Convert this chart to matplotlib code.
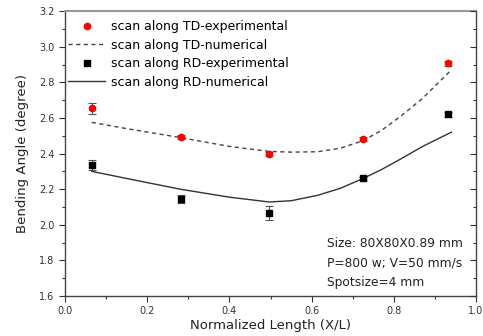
import matplotlib
matplotlib.use("Agg")
import matplotlib.pyplot as plt
from matplotlib.ticker import MultipleLocator
from matplotlib.lines import Line2D

# Experimental data
x_exp = [0.065, 0.282, 0.497, 0.725, 0.931]
td_exp = [2.654, 2.494, 2.397, 2.481, 2.906]
td_err = [0.03, 0.012, 0.012, 0.01, 0.015]
rd_exp = [2.335, 2.145, 2.068, 2.261, 2.62]
rd_err = [0.03, 0.02, 0.04, 0.01, 0.015]

# Numerical curves
x_num = [0.065, 0.15, 0.28, 0.40, 0.497, 0.55, 0.614, 0.67, 0.725, 0.77, 0.817, 0.87, 0.94]
td_num = [2.575, 2.54, 2.49, 2.44, 2.412, 2.408, 2.41, 2.43, 2.472, 2.53, 2.61, 2.71, 2.87]
rd_num = [2.30, 2.26, 2.20, 2.155, 2.128, 2.135, 2.165, 2.205, 2.26, 2.31, 2.37, 2.44, 2.52]

labels = ["scan along TD-experimental", "scan along TD-numerical",
          "scan along RD-experimental", "scan along RD-numerical"]
info = ["Size: 80X80X0.89 mm", "P=800 w; V=50 mm/s", "Spotsize=4 mm"]

fig = plt.figure(figsize=(4.83, 3.36), dpi=100)
ax = fig.add_axes([0.1346, 0.119, 0.851, 0.848])

fs = 9
tc = "#333333"
dash = (0, (3, 2.5))

ax.plot(x_num, td_num, linestyle=dash, color="#444444", lw=1.0, zorder=2)
ax.plot(x_num, rd_num, linestyle="-", color="#333333", lw=1.0, zorder=2)
ax.errorbar(x_exp, td_exp, yerr=td_err, fmt="o", color="red", ms=4.5,
            ecolor="#555555", elinewidth=0.8, capsize=3, capthick=0.8, zorder=3)
ax.errorbar(x_exp, rd_exp, yerr=rd_err, fmt="s", color="black", ms=4.5,
            ecolor="#555555", elinewidth=0.8, capsize=3, capthick=0.8, zorder=3)

ax.set_xlim(0.0, 1.0)
ax.set_ylim(1.6, 3.2)
ax.xaxis.set_major_locator(MultipleLocator(0.2))
ax.xaxis.set_minor_locator(MultipleLocator(0.1))
ax.yaxis.set_major_locator(MultipleLocator(0.2))
ax.yaxis.set_minor_locator(MultipleLocator(0.1))
ax.tick_params(which="both", direction="out", labelsize=7, colors=tc, length=4, width=0.8)
ax.tick_params(which="minor", length=2.5)
ax.set_xticklabels([f"{v:.1f}" for v in ax.get_xticks()])
ax.set_yticklabels([f"{v:.1f}" for v in ax.get_yticks()])

# right-side inward ticks
ax2 = ax.twinx()
ax2.set_ylim(1.6, 3.2)
ax2.yaxis.set_major_locator(MultipleLocator(0.2))
ax2.yaxis.set_minor_locator(MultipleLocator(0.1))
ax2.tick_params(which="both", direction="in", labelright=False, colors=tc, length=4, width=0.8)
ax2.tick_params(which="minor", length=2.5)
for s in ax2.spines.values():
    s.set_visible(False)

for s in ax.spines.values():
    s.set_color("#444444")
    s.set_linewidth(1.0)
ax.spines["top"].set_color("#999999")
ax.spines["top"].set_linewidth(1.5)

ax.set_xlabel("Normalized Length (X/L)", fontsize=9.5, color="#222222", labelpad=2)
ax.set_ylabel("Bending Angle (degree)", fontsize=9.5, color="#222222", labelpad=7)

handles = [
    Line2D([], [], marker="o", color="red", linestyle="none", ms=4.5),
    Line2D([], [], linestyle=dash, color="#444444", lw=1.0),
    Line2D([], [], marker="s", color="black", linestyle="none", ms=4.5),
    Line2D([], [], linestyle="-", color="#333333", lw=1.0),
]
ax.legend(handles, labels, loc="upper left",
          frameon=False, fontsize=fs, handlelength=3.0, handletextpad=0.45,
          labelspacing=0.44, borderpad=0, borderaxespad=0,
          bbox_to_anchor=(0.007, 0.968))

for i, t in enumerate(info):
    ax.text(0.638, 0.183 - i * 0.067, t, transform=ax.transAxes, fontsize=8.8,
            color="#222222", va="center", ha="left")

fig.savefig("out.png", dpi=100)
